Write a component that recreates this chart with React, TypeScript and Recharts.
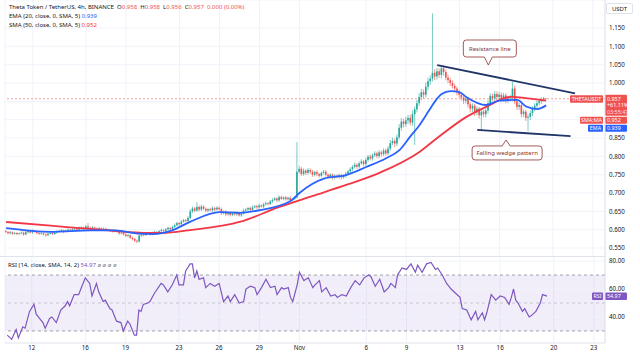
import React from 'react';
import {
  ComposedChart, Bar, Line, XAxis, YAxis, CartesianGrid,
  ReferenceLine, ReferenceArea, ReferenceDot,
} from 'recharts';

const FONT = '"Noto Sans", Roboto, sans-serif';
const UP = '#26a69a';
const DOWN = '#ef5350';
const EMA_C = '#2962ff';
const SMA_C = '#f23645';
const RSI_C = '#7e57c2';
const TEXT = '#131722';
const GRID = '#f0f3fa';
const BORDER = '#e0e3eb';

// 4h candles, index 0 = Oct 10 00:00
const FIRST_OPEN = 0.596;
const closes = [
  0.594,0.590,0.593,0.589,0.591,0.588, 0.590,0.592,0.587,0.593,0.596,0.592,
  0.597,0.594,0.591,0.589,0.590,0.587, 0.585,0.589,0.591,0.588,0.592,0.595,
  0.596,0.598,0.594,0.597,0.600,0.598, 0.601,0.603,0.600,0.604,0.606,0.603,
  0.609,0.605,0.602,0.606,0.603,0.600, 0.604,0.601,0.603,0.599,0.600,0.597,
  0.596,0.598,0.594,0.590,0.592,0.587, 0.583,0.585,0.578,0.575,0.570,0.568,
  0.584,0.587,0.585,0.589,0.591,0.588, 0.592,0.594,0.591,0.596,0.599,0.597,
  0.601,0.605,0.602,0.607,0.612,0.618, 0.615,0.622,0.626,0.624,0.632,0.650,
  0.658,0.652,0.662,0.655,0.663,0.657, 0.652,0.656,0.653,0.659,0.655,0.660,
  0.656,0.645,0.649,0.642,0.646,0.640, 0.645,0.642,0.647,0.639,0.644,0.652,
  0.655,0.659,0.654,0.661,0.664,0.661, 0.666,0.663,0.669,0.672,0.670,0.677,
  0.681,0.685,0.680,0.689,0.684,0.688, 0.683,0.687,0.681,0.684,0.688,0.758,
  0.766,0.752,0.761,0.755,0.763,0.758, 0.750,0.757,0.752,0.747,0.755,0.758,
  0.750,0.745,0.750,0.742,0.747,0.744, 0.749,0.743,0.747,0.753,0.759,0.765,
  0.771,0.777,0.772,0.781,0.786,0.779, 0.790,0.799,0.794,0.803,0.808,0.801,
  0.811,0.806,0.816,0.808,0.821,0.836, 0.842,0.835,0.852,0.878,0.895,0.888,
  0.898,0.905,0.892,0.915,0.928,0.945, 0.962,0.975,0.968,0.990,1.005,1.012,
  1.028,1.018,1.032,1.022,1.040,1.030, 1.015,1.008,1.000,0.992,0.985,0.975,
  0.968,0.960,0.952,0.957,0.942,0.930, 0.938,0.920,0.930,0.912,0.922,0.915,
  0.925,0.945,0.965,0.958,0.970,0.962, 0.968,0.958,0.966,0.952,0.958,0.962,
  0.985,0.950,0.935,0.940,0.915,0.922, 0.905,0.908,0.918,0.930,0.938,0.945,
  0.950,0.955,0.958,0.957,
];
// upper / lower wick lengths in thousandths
const wickUp = [
  3,2,4,2,3,2, 2,4,3,5,3,2, 4,2,3,2,3,2, 3,4,2,3,4,3, 3,4,2,3,4,2, 3,4,2,5,3,2,
  4,9,3,4,2,3, 4,2,3,2,3,2, 3,4,2,3,4,2, 3,4,2,3,2,3, 4,3,2,4,3,2, 3,4,2,3,4,2,
  4,3,2,4,5,4, 3,5,4,3,5,6, 5,4,13,4,5,3, 4,3,4,5,3,4, 3,4,3,4,3,2, 3,4,3,2,4,5,
  4,3,4,5,3,4, 5,3,4,5,3,4, 5,4,3,5,4,3, 4,3,4,3,3,81, 8,5,6,4,5,4, 5,4,5,3,4,5,
  5,3,4,3,4,4, 4,3,4,5,4,5, 5,6,4,5,6,4, 6,5,6,5,6,5, 6,5,6,5,7,8, 9,6,8,10,9,7,
  10,8,9,10,8,9, 10,9,8,12,10,9, 162,10,9,8,4,8, 7,8,6,7,6,5, 6,7,5,6,5,6, 7,5,6,5,6,5,
  6,8,7,6,8,7, 8,6,7,6,7,6, 18,8,6,7,5,6, 5,6,7,6,7,6, 5,6,4,0,
];
const wickDown = [
  3,2,3,4,2,3, 2,3,4,2,3,2, 3,2,4,3,2,3, 4,3,2,3,2,3, 2,3,4,2,3,2, 3,2,4,2,3,3,
  3,2,4,3,2,4, 3,4,2,3,2,3, 4,3,2,4,3,3, 3,4,3,4,3,5, 3,4,3,2,3,4, 3,2,4,3,2,3,
  3,2,4,3,2,3, 4,3,3,4,3,4, 5,4,3,5,4,4, 4,5,3,4,5,3, 4,5,3,5,4,4, 3,4,5,3,4,3,
  3,4,3,4,3,4, 4,3,4,3,4,3, 4,3,5,4,3,4, 4,3,5,4,3,3, 5,6,5,6,5,6, 6,5,6,5,4,5,
  5,6,5,6,5,4, 5,6,4,5,4,5, 5,4,6,5,4,6, 5,6,5,6,5,6, 6,7,5,6,5,6, 6,10,7,6,8,9,
  8,10,8,9,84,8, 8,9,10,8,9,10, 8,10,9,8,9,10, 8,9,8,7,8,9, 8,7,9,8,9,10, 9,10,8,9,40,8,
  9,8,7,8,7,8, 7,8,9,8,7,8, 7,8,9,8,9,8, 8,37,9,8,7,6, 6,7,5,1,
];

// EMA 20 / SMA 50 read as [candle index, value]
const emaPoints: [number, number][] = [
  [0,0.604],[20,0.594],[38,0.598],[49,0.598],[60,0.589],[66,0.588],[75,0.599],[83,0.622],
  [96,0.648],[105,0.646],[114,0.653],[128,0.678],[132,0.700],[143,0.739],[153,0.749],
  [162,0.771],[171,0.795],[177,0.817],[182,0.855],[186,0.885],[190,0.922],[193,0.950],
  [196,0.970],[200,0.978],[204,0.975],[207,0.962],[216,0.940],[222,0.952],[230,0.954],
  [234,0.936],[239,0.929],[243,0.939],
];
const smaPoints: [number, number][] = [
  [0,0.621],[20,0.611],[42,0.600],[65,0.591],[70,0.591],[83,0.599],[105,0.621],[123,0.662],
  [138,0.692],[153,0.722],[168,0.755],[186,0.812],[194,0.850],[207,0.907],[216,0.935],
  [227,0.962],[234,0.959],[243,0.952],
];
// RSI 14 as [candle index, value]
const rsiPoints: [number, number][] = [
  [1,27],[3,24],[5,31],[6,25],[8,33],[9,32],[11,44],[13,49],[14,42],[16,38],[17,36],[18,32],
  [20,39],[21,40],[23,36],[25,45],[27,48],[28,51],[29,48],[31,56],[33,56],[34,60],[36,68],
  [38,64],[39,55],[41,64],[42,58],[44,51],[45,52],[47,46],[48,45],[50,37],[52,36],[53,30],
  [55,37],[56,35],[58,27],[59,27],[60,45],[61,44],[62,49],[64,50],[65,51],[67,57],[70,64],
  [71,63],[73,58],[75,63],[77,70],[78,63],[80,63],[81,73],[83,78],[84,78],[85,68],[86,73],
  [87,67],[89,68],[90,61],[92,64],[94,62],[96,64],[98,51],[100,55],[101,51],[103,56],[105,50],
  [107,51],[108,60],[110,62],[112,61],[113,56],[115,61],[117,67],[119,61],[121,62],[122,56],
  [124,61],[125,60],[127,61],[128,54],[129,51],[131,63],[132,72],[134,66],[136,68],[138,61],
  [139,63],[141,66],[142,58],[144,61],[146,55],[148,56],[149,54],[151,56],[153,55],[155,61],
  [157,66],[159,63],[161,68],[163,70],[164,69],[166,62],[168,67],[170,58],[172,61],[173,64],
  [175,61],[176,70],[178,75],[180,74],[182,78],[184,72],[185,77],[187,72],[189,78],[191,79],
  [193,74],[194,75],[196,70],[198,64],[200,60],[202,57],[204,54],[205,46],[207,45],[209,38],
  [211,44],[212,38],[214,43],[215,38],[216,43],[218,56],[220,52],[222,55],[224,54],[226,49],
  [227,54],[228,60],[229,52],[230,50],[232,44],[233,46],[235,40],[236,41],[238,44],[240,50],
  [241,56],[243,54.97],
];

const dayTicks = [12, 36, 54, 78, 96, 114, 132, 162, 180, 204, 222, 246, 264];
const dayLabels = ['12', '16', '19', '23', '26', '29', 'Nov', '6', '9', '13', '16', '20', '23'];
const priceTicks = [0.55, 0.6, 0.65, 0.7, 0.75, 0.8, 0.85, 0.9, 0.95, 1.0, 1.05, 1.1, 1.15];
const rsiTicks = [40, 60, 80];
const RSI_BAND = [30, 70];
const RSI_MIN = 21.4;
const RSI_MAX = 82.9;
const TOTAL_SLOTS = 270;

const lastPrice = 0.957;
const lastEma = 0.939;
const lastSma = 0.952;
const lastRsi = 54.97;

const rows: any[] = Array.from({ length: TOTAL_SLOTS }, (_, i) => ({ i }));
closes.forEach((c, i) => {
  const o = i === 0 ? FIRST_OPEN : closes[i - 1];
  const h = Math.max(o, c) + wickUp[i] / 1000;
  const l = Math.min(o, c) - wickDown[i] / 1000;
  rows[i].range = [l, h];
  rows[i].o = o;
  rows[i].c = c;
});
emaPoints.forEach(([i, v]) => { rows[i].ema = v; });
smaPoints.forEach(([i, v]) => { rows[i].sma = v; });
rsiPoints.forEach(([i, v]) => { rows[i].rsi = v; });

const Candle = (props: any) => {
  const { x, y, width, height, payload } = props;
  if (!payload || !payload.range) return <g />;
  const [l, h] = payload.range;
  const top = Math.min(y, y + height);
  const bot = Math.max(y, y + height);
  const py = (v: number) => (h === l ? top : top + ((h - v) / (h - l)) * (bot - top));
  const up = payload.c >= payload.o;
  const color = up ? UP : DOWN;
  const cx = x + width / 2;
  const yo = py(payload.o);
  const yc = py(payload.c);
  const bt = Math.min(yo, yc);
  const bh = Math.max(0.8, Math.abs(yo - yc));
  return (
    <g>
      <line x1={cx} x2={cx} y1={top} y2={bot} stroke={color} strokeWidth={0.6} />
      <rect x={x} y={bt} width={width} height={bh} fill={color} />
    </g>
  );
};

const PriceTick = (props: any) => {
  const { x, y, payload } = props;
  const v = payload.value;
  if (Math.abs(v - 0.95) < 1e-6 || Math.abs(v - 0.9) < 1e-6) return <g />;
  return (
    <text x={x} y={y} dy={2.2} fontSize={6.2} fill={TEXT} textAnchor="start" fontFamily={FONT}>
      {v.toFixed(3)}
    </text>
  );
};

// RSI axis values, placed through the band's own scale (band spans RSI_BAND values)
const RsiAxisLabels = (p: any) => {
  const vb = p.viewBox || {};
  const pxPerUnit = vb.height / (RSI_BAND[1] - RSI_BAND[0]);
  const yOf = (v: number) => vb.y + (RSI_BAND[1] - v) * pxPerUnit;
  return (
    <g>
      {rsiTicks.map((t) => (
        <text key={t} x={vb.x + vb.width + 4} y={yOf(t) + 2.2} fontSize={6.2} fill={TEXT}
          textAnchor="start" fontFamily={FONT}>{t.toFixed(2)}</text>
      ))}
    </g>
  );
};

const Tag = ({ x, y, w, h, fill, text, anchor = 'middle' }: any) => (
  <g>
    <rect x={x} y={y} width={w} height={h} fill={fill} rx={1} />
    <text x={anchor === 'middle' ? x + w / 2 : x + 2} y={y + h / 2 + 2} fontSize={5.4} fill="#fff"
      textAnchor={anchor} fontFamily={FONT}>{text}</text>
  </g>
);

const PriceTags = (p: any) => {
  const vb = p.viewBox || {};
  const ax = vb.x + vb.width;
  const ly = vb.y;
  return (
    <g>
      <Tag x={ax - 35} y={ly - 3.5} w={33} h={7.5} fill={DOWN} text="THETAUSDT" />
      <rect x={ax} y={ly - 4} width={22} height={21} fill={DOWN} rx={1} />
      <text x={ax + 2} y={ly + 2} fontSize={5.4} fill="#fff" fontFamily={FONT}>{lastPrice.toFixed(3)}</text>
      <text x={ax + 2} y={ly + 8.5} fontSize={5.4} fill="#fff" fontFamily={FONT}>+61.11%</text>
      <text x={ax + 2} y={ly + 15} fontSize={5.4} fill="#fde" fontFamily={FONT}>03:55:47</text>
      <Tag x={ax - 25} y={ly + 18} w={23} h={7} fill={DOWN} text="SMA:MA" />
      <Tag x={ax} y={ly + 18} w={22} h={7} fill={DOWN} text={lastSma.toFixed(3)} anchor="start" />
      <Tag x={ax - 17} y={ly + 26} w={15} h={7} fill={EMA_C} text="EMA" />
      <Tag x={ax} y={ly + 26} w={22} h={7} fill={EMA_C} text={lastEma.toFixed(3)} anchor="start" />
    </g>
  );
};

const RsiTags = (p: any) => {
  const vb = p.viewBox || {};
  const ax = vb.x + vb.width;
  const ly = vb.y;
  return (
    <g>
      <Tag x={ax - 13} y={ly - 3.5} w={11} h={7.5} fill={RSI_C} text="RSI" />
      <Tag x={ax} y={ly - 3.5} w={22} h={7.5} fill={RSI_C} text={lastRsi.toFixed(2)} anchor="start" />
    </g>
  );
};

const CALLOUT_C = '#8a3232';
const makeCallout = (text: string, dir: 'down' | 'up', dl: number, w: number) => (p: any) => {
  const { cx, cy } = p;
  if (cx == null || cy == null) return <g />;
  const L = cx + dl;
  const R = L + w;
  const r = 3;
  let T: number, B: number, d: string;
  if (dir === 'down') {
    T = cy - 26; B = cy - 9;
    const tip = cy - 1;
    d = `M${L + r},${T} H${R - r} Q${R},${T} ${R},${T + r} V${B - r} Q${R},${B} ${R - r},${B} H${cx + 4} L${cx},${tip} L${cx - 4},${B} H${L + r} Q${L},${B} ${L},${B - r} V${T + r} Q${L},${T} ${L + r},${T} Z`;
  } else {
    T = cy + 7; B = cy + 21;
    const tip = cy + 1;
    d = `M${L + r},${T} H${cx - 4} L${cx},${tip} L${cx + 4},${T} H${R - r} Q${R},${T} ${R},${T + r} V${B - r} Q${R},${B} ${R - r},${B} H${L + r} Q${L},${B} ${L},${B - r} V${T + r} Q${L},${T} ${L + r},${T} Z`;
  }
  return (
    <g>
      <path d={d} fill="#fff" stroke={CALLOUT_C} strokeWidth={0.8} />
      <text x={(L + R) / 2} y={(T + B) / 2 + 2} fontSize={6} fill={CALLOUT_C} textAnchor="middle" fontFamily={FONT}>{text}</text>
    </g>
  );
};
const ResistanceCallout = makeCallout('Resistance line', 'down', -25, 53);
const WedgeCallout = makeCallout('Falling wedge pattern', 'up', -34, 70);

const resistanceLine = [{ x: 194, y: 1.049 }, { x: 256, y: 0.972 }];
const supportLine = [{ x: 212, y: 0.872 }, { x: 254, y: 0.855 }];

const dayLabel = (v: any) => {
  const k = dayTicks.indexOf(Number(v));
  return k >= 0 ? dayLabels[k] : '';
};

export default function App() {
  return (
    <div style={{ position: 'absolute', left: 0, top: 0, width: 640, height: 360, background: '#fff', overflow: 'hidden', fontFamily: FONT }}>
      <div style={{ position: 'absolute', left: 0, top: 0, width: 640, height: 257, overflow: 'hidden', zIndex: 2 }}>
        <ComposedChart width={640} height={257} data={rows} margin={{ top: 0, right: 0, bottom: 0, left: 5 }}>
          <CartesianGrid stroke={GRID} />
          <XAxis dataKey="i" type="category" hide ticks={dayTicks} interval={0} />
          <YAxis orientation="right" type="number" domain={[0.5255, 1.2264]} allowDataOverflow ticks={priceTicks}
            interval={0} width={35} tickSize={0} tickMargin={4} tickLine={false} axisLine={{ stroke: BORDER }} tick={<PriceTick />} />
          <ReferenceLine y={lastPrice} stroke={DOWN} strokeOpacity={0.7} strokeDasharray="2 2" strokeWidth={0.8}
            label={(p: any) => <PriceTags {...p} />} />
          <Bar dataKey="range" shape={<Candle />} barSize={1.6} isAnimationActive={false} />
          <Line dataKey="sma" type="monotone" connectNulls dot={false} stroke={SMA_C} strokeWidth={1.8} isAnimationActive={false} />
          <Line dataKey="ema" type="monotone" connectNulls dot={false} stroke={EMA_C} strokeWidth={1.8} isAnimationActive={false} />
          <ReferenceLine segment={resistanceLine} stroke="#1f3468" strokeWidth={1.8} ifOverflow="visible" />
          <ReferenceLine segment={supportLine} stroke="#1f3468" strokeWidth={1.8} ifOverflow="visible" />
          <ReferenceDot x={217} y={1.0464} r={0} shape={ResistanceCallout} ifOverflow="visible" />
          <ReferenceDot x={225} y={0.8474} r={0} shape={WedgeCallout} ifOverflow="visible" />
        </ComposedChart>
      </div>
      <div style={{ position: 'absolute', left: 0, top: 251, zIndex: 3 }}>
        <ComposedChart width={640} height={109} data={rows} margin={{ top: 6, right: 0, bottom: 0, left: 5 }}>
          <CartesianGrid stroke={GRID} horizontal={false} />
          {rsiTicks.map((t) => (
            <ReferenceLine key={'g' + t} y={t} stroke={GRID} />
          ))}
          <ReferenceArea y1={RSI_BAND[0]} y2={RSI_BAND[1]} fill={RSI_C} fillOpacity={0.1} stroke="none"
            label={(p: any) => <RsiAxisLabels {...p} />} />
          <ReferenceLine y={70} stroke="#787b86" strokeDasharray="3 3" strokeWidth={0.7} />
          <ReferenceLine y={50} stroke="#b2b5be" strokeDasharray="3 3" strokeWidth={0.7} />
          <ReferenceLine y={30} stroke="#787b86" strokeDasharray="3 3" strokeWidth={0.7} />
          <XAxis dataKey="i" type="category" ticks={dayTicks} interval={0} tickFormatter={dayLabel}
            height={17} tickSize={0} tickMargin={3} tickLine={false} axisLine={{ stroke: BORDER }}
            tick={{ fontSize: 6.2, fill: TEXT, fontFamily: FONT }} />
          <YAxis orientation="right" type="number" domain={[RSI_MIN, RSI_MAX]} allowDataOverflow
            width={35} tickSize={0} tickLine={false} axisLine={{ stroke: BORDER }} tick={false} />
          <Line dataKey="rsi" type="linear" connectNulls dot={false} stroke={RSI_C} strokeWidth={1.2} isAnimationActive={false} />
          <ReferenceLine y={lastRsi} stroke="none" ifOverflow="visible" label={(p: any) => <RsiTags {...p} />} />
        </ComposedChart>
      </div>
      <div style={{ position: 'absolute', left: 0, top: 256, width: 605, height: 1, background: BORDER, zIndex: 4 }} />

      <div style={{ position: 'absolute', zIndex: 5, left: 9, top: 3, fontSize: 6, lineHeight: '8px', color: TEXT, whiteSpace: 'nowrap' }}>
        Theta Token / TetherUS, 4h, BINANCE&nbsp; O<span style={{ color: DOWN }}>0.958</span>&nbsp; H<span style={{ color: DOWN }}>0.958</span>&nbsp; L<span style={{ color: DOWN }}>0.956</span>&nbsp; C<span style={{ color: DOWN }}>0.957</span>&nbsp; <span style={{ color: DOWN }}>0.000 (0.00%)</span>
      </div>
      <div style={{ position: 'absolute', zIndex: 5, left: 9, top: 12, fontSize: 6, lineHeight: '8px', color: TEXT, whiteSpace: 'nowrap' }}>
        EMA (20, close, 0, SMA, 5) <span style={{ color: EMA_C }}>{lastEma.toFixed(3)}</span>
      </div>
      <div style={{ position: 'absolute', zIndex: 5, left: 9, top: 20.5, fontSize: 6, lineHeight: '8px', color: TEXT, whiteSpace: 'nowrap' }}>
        SMA (50, close, 0, SMA, 5) <span style={{ color: SMA_C }}>{lastSma.toFixed(3)}</span>
      </div>
      <div style={{ position: 'absolute', zIndex: 5, left: 8, top: 261, fontSize: 6, lineHeight: '8px', color: TEXT, whiteSpace: 'nowrap' }}>
        RSI (14, close, SMA, 14, 2) <span style={{ color: RSI_C }}>{lastRsi.toFixed(2)}</span> <span style={{ color: '#787b86' }}>ø ø ø ø</span>
      </div>
      <div style={{ position: 'absolute', zIndex: 5, left: 606, top: 3, width: 27, height: 11, border: `1px solid ${BORDER}`, borderRadius: 2, fontSize: 6, lineHeight: '11px', textAlign: 'center', color: TEXT, boxSizing: 'border-box' }}>
        USDT
      </div>
    </div>
  );
}
